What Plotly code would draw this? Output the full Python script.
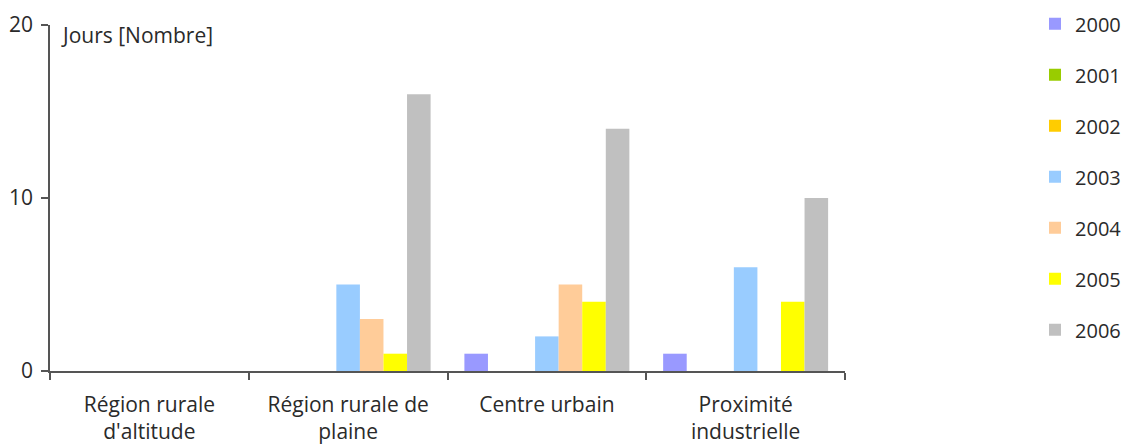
import plotly.graph_objects as go

categories = ["Région rurale<br>d'altitude", "Région rurale de<br>plaine", "Centre urbain", "Proximité<br>industrielle"]
years = ["2000", "2001", "2002", "2003", "2004", "2005", "2006"]
v2000 = [0, 0, 1, 1]
v2001 = [0, 0, 0, 0]
v2002 = [0, 0, 0, 0]
v2003 = [0, 5, 2, 6]
v2004 = [0, 3, 5, 0]
v2005 = [0, 1, 4, 4]
v2006 = [0, 16, 14, 10]
series = [v2000, v2001, v2002, v2003, v2004, v2005, v2006]
colors = ["#9999FF", "#99CC00", "#FFCC00", "#99CCFF", "#FFCC99", "#FFFF00", "#C0C0C0"]

FONT = "Open Sans"
TXT = "#2a2a2a"
FS = 21

fig = go.Figure()
for y, vals, c in zip(years, series, colors):
    fig.add_trace(go.Bar(
        x=categories, y=vals, name=y, legendgroup=y,
        marker=dict(color=c, line=dict(width=0)),
    ))

fig.update_layout(
    width=1124, height=445,
    margin=dict(l=50, r=279, t=25, b=74, autoexpand=False),
    paper_bgcolor="white", plot_bgcolor="white",
    barmode="group", bargap=0.17, bargroupgap=0,
    font=dict(family=FONT, size=FS, color=TXT),
    showlegend=True,
    legend=dict(
        x=1.239, xanchor="left", y=1.06, yanchor="top",
        traceorder="grouped", tracegroupgap=22,
        font=dict(family=FONT, size=20, color=TXT),
        itemwidth=30, bgcolor="rgba(0,0,0,0)", maxheight=1000,
    ),
    xaxis=dict(
        showline=True, linecolor="#555555", linewidth=1.5,
        ticks="outside", tickson="boundaries", ticklen=7, tickcolor="#555555", tickwidth=1.5,
        showgrid=False, ticklabelstandoff=14,
        tickfont=dict(family=FONT, size=FS, color=TXT),
    ),
    yaxis=dict(
        range=[0, 20], tickvals=[0, 10, 20],
        showline=True, linecolor="#555555", linewidth=1.5,
        ticks="outside", ticklen=7, tickcolor="#555555", tickwidth=1.5,
        showgrid=False, zeroline=False, ticklabelstandoff=4,
        tickfont=dict(family=FONT, size=FS, color=TXT),
    ),
    annotations=[dict(
        text="Jours [Nombre]", xref="paper", yref="paper",
        x=0.011, y=1.017, xanchor="left", yanchor="top", showarrow=False,
        font=dict(family=FONT, size=FS, color=TXT),
    )],
)

fig.write_html(
    "out.html",
    config={"displayModeBar": False},
    post_script="document.body.style.margin='0';document.body.style.overflow='hidden';",
)
